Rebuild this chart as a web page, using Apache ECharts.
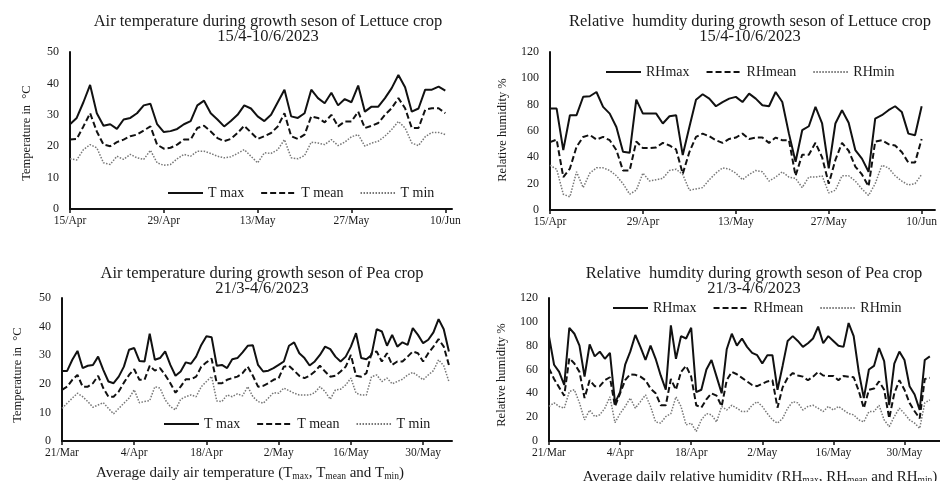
<!DOCTYPE html>
<html>
<head>
<meta charset="utf-8">
<script src="https://cdn.jsdelivr.net/npm/echarts@6/dist/echarts.min.js"></script>
<style>html,body{margin:0;padding:0;background:#fff}#c{width:940px;height:481px}</style>
</head>
<body>
<div id="c"></div>
<script>
// ---------- tick labels ----------
const lettuceTickDays = [0, 14, 28, 42, 56];
const lettuceTickLabels = ['15/Apr', '29/Apr', '13/May', '27/May', '10/Jun'];
const peaTickDays = [0, 14, 28, 42, 56, 70];
const peaTickLabels = ['21/Mar', '4/Apr', '18/Apr', '2/May', '16/May', '30/May'];

// ---------- Lettuce: air temperature (15 Apr - 10 Jun) ----------
const lettuceTmax = [27,29,34,39.5,30.5,26.5,27,25.5,28.5,29,30.5,33,33.5,27,24.5,24.8,25.5,27,28,33,34.5,30.5,28.5,26.3,28,30,33,32,29.5,28,30,34,38,29.5,29,30.5,38,35.3,33.7,37,33,35,34,39.3,31,32.6,32.6,35.3,38.5,42.7,38.8,31,32,38,38,39,37.7];
const lettuceTmean = [22.1,22.3,26.3,30.5,24.7,20.5,20,21.3,22.1,23.2,23.7,25,26.3,20.5,19.2,19.5,20.5,22.1,22.1,25.8,26.5,24.7,22.6,21.6,22.3,24.2,26.5,24.4,22.3,23.2,24.2,26.3,30.5,23.2,22.3,23.7,29.5,29,27.6,30,26.3,27.9,27.9,31,25.8,26.5,27.4,30,32.1,35.3,32.1,25.8,25.8,31.6,32.1,32.1,30.5];
const lettuceTmin = [16,15.6,18.9,20.5,19.5,14.7,14.2,16.8,15.8,17.4,16.3,15.8,18.7,14.7,13.9,14.2,16,17.4,16.8,18.4,18.4,17.7,16.8,16.3,16.6,17.7,18.9,16.8,14.7,17.9,17.7,18.9,22.1,16.3,16,17,21.3,21,20.5,22.1,20.2,21.3,23,23.7,20,21,21.6,23.2,25.3,27.9,25.8,21,20.2,23,24.4,24.4,23.7];

// ---------- Lettuce: relative humidity ----------
const lettuceRHmax = [77,77,45.5,72,72,86,86.4,89.6,78.3,73.2,63,44.2,43.4,83.8,73.2,73.2,73.2,65.7,71.2,72,41.7,63,83.8,87.9,84.6,78.8,82,84.6,85.9,82,88.4,84.6,79.5,78.8,89.6,82,58,36.6,60.6,63.6,78.3,65.7,31.6,65.7,75.8,66.2,45.5,39,29,69.4,72,75.8,78.8,74.5,58,56.8,78.8];
const lettuceRHmean = [51.5,53.5,25,31.5,48,55.5,57,53.5,55.5,53,45.5,30,30,52,47,47,47.5,51,49,46,27.5,44,55.5,58,56,53,51,54,55,58,54,55,55,51,55,53,53,26,42,42,51,40,20,38,51,45,33,27,18,52,53,50,49,44,36,36,54];
const lettuceRHmin = [34,31,12,10,29,17,28,32,32,30,26,20,12,15,28,22,23,24,30,31,27,15,16,17,23,28,32,31,28,23,27,30,29,22,25,29,25,24,17,25,25,26,13,15,26,26,22,16,11,20,34,32,26,22,19,20,27];

// ---------- Pea: air temperature (21 Mar - 4 Jun) ----------
const peaTmax = [24.5,24.5,28.4,31.5,25.5,26.3,26.6,29.5,24.9,20.8,20.2,22.5,26,31.9,32.5,28,27.8,37.5,28.4,29,31.3,26.6,22.8,24.3,27.5,27,29.5,33.6,36.6,36.3,26.3,26.6,25.5,28.6,29,31,33.3,33.5,26.6,24.3,24.6,25.5,26.6,27.8,33.3,34.5,30.7,29,26.4,27.8,30.1,33,32.1,29.5,27.8,29.5,33,37.7,29,28.6,30.1,39.1,38.3,33.3,37.1,33,34.5,33.6,39.5,37.1,34.2,35.4,38,42.6,39.1,31.3];
const peaTmean = [17.9,19,21.4,23.1,19,19,20.2,22.8,18.5,15.5,15.5,17.3,20.4,23.1,25.1,21.4,21.4,26.3,24.6,25.5,23.1,20.2,16.9,19,21.6,21.6,22.5,26,27.5,28.8,20.2,20.2,21.4,22,22.5,23.7,26,22.8,19,19.3,20.2,21.4,22,26,26.3,24.6,22.8,22,22.8,24.3,26.3,24.3,22.5,22.8,24.3,26,30.1,22.8,22.5,23.7,30.7,31.3,27.8,30.7,26.6,27.8,27.8,29.5,31.3,30.7,27.8,30.7,33,35.6,33,26.6];
const peaTmin = [11.4,13.2,15,16.7,15.5,13.8,11.8,12.6,13.4,11.4,9.5,11.4,13.2,15,17.9,13.4,13.8,14.1,19,18.5,14.4,12,10.9,14.6,15.5,16.1,15.5,19,20.8,22.6,14,13.8,16.1,15.5,16.5,15.8,19,15.5,13.8,13.2,15,16.9,16.7,18.5,17.6,16.7,16.1,16.1,16.1,16.9,19,17.3,14.6,17.9,18.1,19.6,22,16.7,16.1,16.1,22.5,23.1,20.8,22,20,20.8,21.6,23.1,24,22.8,21.4,23.1,24.6,28.4,26.3,20.8];

// ---------- Pea: relative humidity ----------
const peaRHmax = [87.7,64,58,47,95,90,80,54,81,71,75,69,74,32,41,64,75,89,79,68,80,69,55,43,97,69,88,86,95,41,43,60,68,54,40,77,90,80,86,79,74,72,65,72,72,43,63,84,88,84,79,82,86,96,82,88,84,80,79,99,88,58,36,60,63,78,67,30,65,75,68,46,39,26,68,71];
const peaRHmean = [61,52,45,38,69.5,65,58,36,51,46,46,51,53.5,29,40,51,56,55.5,54,51,44,40,30,30,52,43,58,63,54,30,28,35,40,38,29,51,58,56,53,50,47,46,48,50,51,28,45,53,57,55,54,51,54,58,55,54.6,54.6,51,54.6,54,53.5,42,27.5,43,44,50,43,19,40,51,43,32,25,19,52,53];
const peaRHmin = [29,32,29,27.5,41.5,43,32,17.7,26,20.5,22,27.5,37,15.4,23,29,36,27.5,33,38.7,29,16,15,20.5,23,37,29,13.5,15,8,17.7,23,22,16,29,26,30,27.5,24.7,24.7,30,33,29,23,17.7,15,19,27.5,33,32,26,29,30,27.5,24.7,29,26,29,26,23,22,17.7,16,24.7,24.7,30,17.7,12,20.5,27.5,23,17.7,15,10.6,32,34.5];

// ---------- text ----------
const titles = [
  'Air temperature during growth seson of Lettuce crop\n15/4-10/6/2023',
  'Relative  humdity during growth seson of Lettuce crop\n15/4-10/6/2023',
  'Air temperature during growth seson of Pea crop\n21/3-4/6/2023',
  'Relative  humdity during growth seson of Pea crop\n21/3-4/6/2023'
];
const tempNames = ['T max', 'T mean', 'T min'];
const rhNames = ['RHmax', 'RHmean', 'RHmin'];

const SERIF = '"Liberation Serif", "Times New Roman", serif';
const INK = '#1a1a1a';

function pairs(arr) { return arr.map((v, i) => [i, v]); }

const styles = [
  { color: '#111', width: 2, type: 'solid' },
  { color: '#111', width: 2, type: [6, 3] },
  { color: '#777', width: 1.5, type: [1.5, 1.5] }
];

const grids = [
  { left: 70, top: 52, width: 382, height: 157 },
  { left: 550, top: 52, width: 388, height: 158 },
  { left: 62, top: 298, width: 390, height: 143 },
  { left: 549, top: 298, width: 395, height: 143 }
];
const xMax = [57, 58, 75.6, 77];
const yMax = [50, 120, 50, 120];
const yInt = [10, 20, 10, 20];

const xAxes = grids.map((g, i) => {
  const lett = i < 2;
  const days = lett ? lettuceTickDays : peaTickDays;
  const labels = lett ? lettuceTickLabels : peaTickLabels;
  return {
    type: 'value', gridIndex: i, min: 0, max: xMax[i],
    splitLine: { show: false },
    axisLine: { show: true, onZero: false, lineStyle: { color: '#111', width: 2 } },
    axisTick: { show: true, customValues: days, length: 4, lineStyle: { color: '#111', width: 1.5 } },
    axisLabel: {
      customValues: days,
      formatter: v => labels[days.indexOf(v)] || '',
      fontFamily: SERIF, fontSize: 11.5, color: INK, margin: 6
    }
  };
});

const yAxes = grids.map((g, i) => ({
  type: 'value', gridIndex: i, min: 0, max: yMax[i], interval: yInt[i],
  splitLine: { show: false },
  axisLine: { show: true, lineStyle: { color: '#111', width: 2 } },
  axisTick: { show: false },
  axisLabel: { fontFamily: SERIF, fontSize: 12, color: INK, margin: 11 }
}));

const panelData = [
  [lettuceTmax, lettuceTmean, lettuceTmin],
  [lettuceRHmax, lettuceRHmean, lettuceRHmin],
  [peaTmax, peaTmean, peaTmin],
  [peaRHmax, peaRHmean, peaRHmin]
];
const series = [];
panelData.forEach((arrs, p) => {
  const names = (p % 2 === 0) ? tempNames : rhNames;
  arrs.forEach((arr, k) => {
    series.push({
      type: 'line', name: names[k], xAxisIndex: p, yAxisIndex: p,
      data: pairs(arr), symbol: 'none', showSymbol: false,
      lineStyle: styles[k], itemStyle: { color: styles[k].color },
      clip: false, animation: false
    });
  });
});

const legendPos = [
  { left: 167, top: 186 },
  { left: 605, top: 65 },
  { left: 163, top: 417 },
  { left: 612, top: 301 }
];
const legends = legendPos.map((pos, p) => ({
  left: pos.left, top: pos.top, orient: 'horizontal', padding: 0,
  itemWidth: 35, itemHeight: 14, itemGap: 16, selectedMode: false,
  itemStyle: { opacity: 0 },
  data: (p % 2 === 0) ? tempNames : rhNames,
  textStyle: { fontFamily: SERIF, fontSize: 14, color: INK }
}));

const titlePos = [[268, 29.5], [750, 29.5], [262, 281], [754, 281]];
const graphics = titles.map((t, i) => ({
  type: 'text', x: titlePos[i][0], y: titlePos[i][1], silent: true,
  style: { text: t, align: 'center', verticalAlign: 'middle', fontFamily: SERIF, fontSize: 16.5, lineHeight: 15, fill: INK }
}));
const yNames = [
  ['Temperature in  \u00B0C', 27, 133],
  ['Relative humidity %', 503, 130],
  ['Temperature in  \u00B0C', 18, 375],
  ['Relative humidity %', 502, 375]
];
yNames.forEach(n => graphics.push({
  type: 'text', x: n[1], y: n[2], rotation: Math.PI / 2, silent: true,
  style: { text: n[0], align: 'center', verticalAlign: 'middle', fontFamily: SERIF, fontSize: 12.5, fill: INK }
}));
const subRich = {
  n: { fontFamily: SERIF, fontSize: 15, fill: INK, color: INK },
  s: { fontFamily: SERIF, fontSize: 9.5, fill: INK, color: INK, padding: [7, 0, 0, 0] }
};
graphics.push({
  type: 'text', x: 250, y: 473, silent: true,
  style: { text: '{n|Average daily air temperature (T}{s|max}{n|, T}{s|mean}{n| and T}{s|min}{n|)}', rich: subRich, align: 'center', verticalAlign: 'middle', fontFamily: SERIF, fontSize: 15, fill: INK }
});
graphics.push({
  type: 'text', x: 760, y: 477, silent: true,
  style: { text: '{n|Average daily relative humidity (RH}{s|max}{n|, RH}{s|mean}{n| and RH}{s|min}{n|)}', rich: subRich, align: 'center', verticalAlign: 'middle', fontFamily: SERIF, fontSize: 15, fill: INK }
});

const chart = echarts.init(document.getElementById('c'), null, { renderer: 'canvas' });
chart.setOption({
  backgroundColor: '#fff',
  animation: false,
  grid: grids,
  xAxis: xAxes,
  yAxis: yAxes,
  legend: legends,
  series: series,
  graphic: graphics
});
</script>
</body>
</html>
